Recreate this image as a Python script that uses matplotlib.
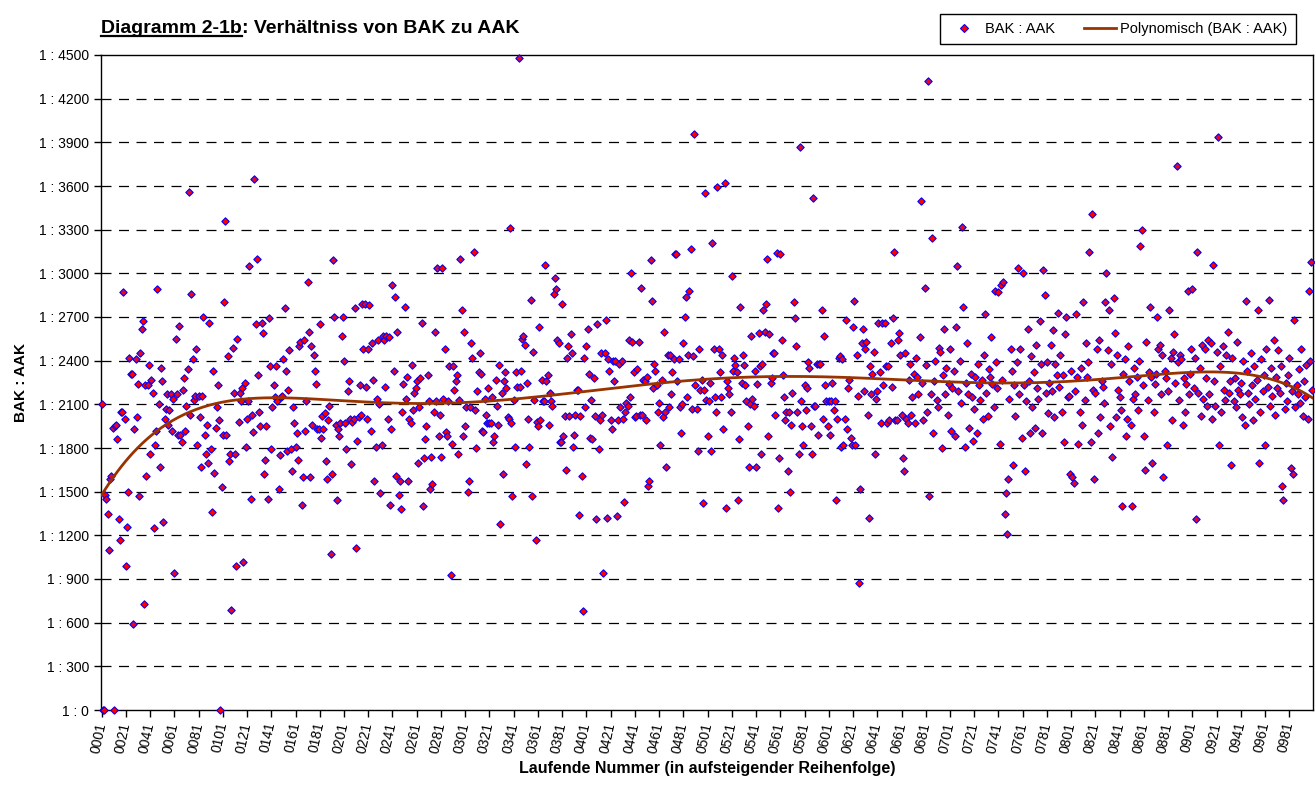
import numpy as np
import matplotlib
matplotlib.use("Agg")
import matplotlib.pyplot as plt
from matplotlib.lines import Line2D
from matplotlib.ticker import FuncFormatter, FixedLocator

plt.rcParams['font.family'] = ['Liberation Sans', 'DejaVu Sans']

# ---- data: ratio BAK : AAK (value N means 1 : N), running numbers 0001..1000 ----
ratio_0001_0100 = [
    2100, 0, 0, 1480, 1450, 1350, 1100, 1590, 1610, 1940,
    0, 1950, 1960, 1860, 1310, 1170, 2050, 2050, 2870, 2000,
    990, 1260, 1500, 2420, 2310, 2310, 590, 1930, 2410, 2010,
    2240, 1470, 2450, 2620, 2670, 730, 2230, 1610, 2230, 2370,
    1760, 2270, 2180, 1250, 1820, 1920, 2890, 2100, 1670, 2350,
    2260, 1290, 2000, 2070, 2170, 1960, 2060, 2170, 1920, 2140,
    940, 2550, 2170, 1890, 2640, 1890, 1840, 2200, 2280, 1920,
    2090, 2340, 3560, 2030, 2860, 2410, 2130, 2160, 2480, 1820,
    2160, 2010, 1670, 2160, 2700, 1890, 1760, 1960, 1700, 2660,
    1790, 1360, 2330, 1630, 1940, 2080, 2230, 1990, 0, 1530]
ratio_0101_0200 = [
    1890, 2800, 3360, 1890, 2430, 1710, 1760, 690, 2490, 2180,
    1760, 990, 2550, 1980, 2180, 2120, 2210, 1020, 2250, 1810,
    2000, 2120, 3050, 1450, 2030, 1910, 3650, 2650, 3100, 2300,
    2050, 1950, 2660, 2590, 1620, 1720, 1950, 1450, 2690, 2360,
    1790, 2080, 2230, 2150, 2360, 2120, 1520, 1750, 2150, 2160,
    2410, 2760, 2330, 1780, 2200, 2470, 1790, 1640, 2080, 1970,
    1810, 1900, 1720, 2500, 2530, 1410, 1600, 2540, 1920, 2120,
    2940, 2600, 1600, 2500, 1960, 2440, 2330, 2240, 1930, 1930,
    2650, 1870, 2020, 1930, 2040, 1710, 1590, 1990, 2090, 1070,
    1620, 3090, 2700, 1960, 1440, 1930, 1880, 1970, 2570, 2700]
ratio_0201_0300 = [
    2400, 1970, 1790, 2190, 2260, 2000, 1690, 1980, 2000, 2760,
    1110, 1850, 2010, 2230, 2030, 2790, 2480, 2790, 2220, 2000,
    2480, 2780, 1920, 2520, 2270, 1570, 1810, 2140, 2540, 2100,
    1490, 1820, 2570, 2540, 2220, 2570, 2000, 2560, 1410, 1930,
    2920, 2330, 2840, 1610, 2600, 1480, 1570, 1380, 2050, 2240,
    2770, 2140, 2290, 1570, 2000, 1970, 2370, 2060, 2180, 2210,
    2260, 1700, 2080, 2280, 2660, 1400, 1730, 1860, 1950, 2300,
    2120, 1520, 1740, 1550, 2050, 2600, 2120, 3040, 1880, 2030,
    1740, 3040, 2140, 2480, 1910, 1880, 2120, 2360, 930, 1830,
    2360, 2200, 2260, 2300, 1760, 2130, 3100, 2750, 1880, 2600]
ratio_0301_0400 = [
    1950, 2080, 1500, 1570, 2080, 2520, 2420, 3150, 2060, 1800,
    2190, 2320, 2450, 2310, 1920, 1910, 2140, 2030, 1970, 2210,
    1970, 1970, 2150, 1840, 1880, 2270, 2090, 1960, 2370, 1280,
    2180, 1620, 2260, 2320, 2210, 2010, 2000, 3310, 1970, 1470,
    2130, 1810, 2320, 2220, 4480, 2220, 2330, 2550, 2570, 2510,
    1690, 2250, 2000, 1810, 2820, 1470, 2460, 2130, 1170, 1980,
    1950, 2630, 1990, 2270, 2120, 2120, 3060, 2260, 2300, 1960,
    2180, 2120, 2090, 2860, 2970, 2890, 2540, 2520, 1840, 1840,
    2790, 1880, 2020, 1650, 2420, 2500, 2020, 2580, 2450, 1810,
    1890, 2030, 2200, 2200, 1340, 2020, 1610, 680, 2420, 2080]
ratio_0401_0500 = [
    2500, 2620, 2310, 1870, 2130, 1860, 2280, 2020, 1310, 2650,
    1790, 1990, 2450, 2030, 940, 2450, 2680, 1320, 2410, 2330,
    1990, 1930, 2400, 2260, 2400, 1330, 1990, 2380, 2080, 2400,
    2000, 1430, 2050, 2110, 2090, 2540, 2150, 3000, 2530, 2320,
    2010, 2020, 2340, 2530, 2030, 2900, 2030, 2270, 2260, 1990,
    2290, 1540, 1570, 3090, 2810, 2210, 2380, 2330, 2230, 2050,
    2110, 1820, 2270, 2010, 2600, 2050, 1670, 2440, 2080, 2440,
    2170, 2320, 2410, 3130, 3130, 2260, 2410, 2080, 1900, 2100,
    2520, 2700, 2840, 2150, 2440, 2880, 3170, 2070, 2430, 3960,
    2230, 2070, 1780, 2480, 2200, 2270, 1420, 2200, 3550, 2130]
ratio_0501_0600 = [
    1880, 2120, 2250, 1780, 3210, 2480, 2150, 2050, 3590, 2480,
    2320, 2150, 2440, 1930, 3620, 1390, 2260, 2210, 2170, 2050,
    2980, 2330, 2420, 2370, 2320, 1440, 1860, 2770, 2250, 2440,
    2370, 2230, 2120, 1950, 1670, 2100, 2570, 2140, 2090, 2330,
    1670, 2240, 2590, 2360, 1760, 2380, 2750, 2600, 2790, 3100,
    1880, 2580, 2250, 2280, 2450, 2450, 2030, 3140, 1390, 1730,
    3130, 2540, 2300, 2150, 1990, 2050, 1640, 2050, 1500, 1960,
    2180, 2800, 2690, 2500, 2050, 1760, 3870, 2120, 1950, 1820,
    2230, 2060, 2210, 2390, 2350, 1950, 1760, 3520, 2090, 2090,
    2380, 1890, 2380, 2380, 2750, 2000, 2570, 2230, 2120, 1950]
ratio_0601_0700 = [
    2120, 1890, 2120, 2250, 2060, 2120, 1440, 2000, 2420, 2430,
    1810, 2410, 1820, 2000, 2680, 1930, 2210, 2270, 1870, 1820,
    2630, 2810, 1820, 2440, 2160, 870, 1520, 2520, 2620, 2190,
    2480, 2530, 2030, 1320, 2360, 2170, 2310, 2460, 1760, 2140,
    2190, 2660, 2320, 1970, 2660, 2230, 2660, 2360, 1970, 2360,
    1990, 2520, 2220, 2690, 3150, 1990, 1990, 2540, 2590, 2440,
    2030, 1730, 1640, 2450, 2000, 1970, 2270, 2380, 2030, 2150,
    2310, 1970, 2420, 2290, 2170, 2560, 3500, 2250, 1990, 2900,
    2370, 2050, 4320, 1470, 2170, 3240, 1900, 2260, 2400, 2130,
    2080, 2490, 2460, 1800, 2300, 2620, 2170, 2350, 2030, 2240]
ratio_0701_0800 = [
    2480, 1920, 2210, 2330, 1880, 2630, 3050, 2190, 2400, 2110,
    3320, 2770, 1810, 2250, 2520, 2170, 1940, 2310, 2150, 1850,
    2070, 2290, 1900, 2380, 2230, 2130, 2270, 2000, 2440, 2720,
    2180, 2020, 2340, 2290, 2560, 2240, 2080, 2880, 2390, 2210,
    2870, 1830, 2920, 2270, 2940, 1350, 1490, 1210, 1590, 2140,
    2480, 2330, 1680, 2230, 2020, 2390, 3040, 2170, 2480, 1870,
    3000, 2230, 1640, 2120, 2620, 2260, 1900, 2430, 2080, 2320,
    1940, 2510, 2210, 2140, 2670, 2380, 1900, 3020, 2850, 2180,
    2390, 2040, 2250, 2510, 2190, 2610, 2010, 2380, 2300, 2730,
    2220, 2440, 2050, 2300, 1840, 2580, 2700, 2150, 2160, 1620]
ratio_0801_0900 = [
    2330, 1600, 1560, 2190, 2720, 2290, 1830, 2050, 2350, 1960,
    2800, 2130, 2520, 2290, 2390, 3150, 1840, 3410, 2200, 1590,
    2180, 2480, 1900, 2540, 2010, 2260, 2220, 2110, 2800, 3000,
    2470, 2750, 1950, 2380, 1740, 2830, 2590, 2010, 2440, 2200,
    2150, 2060, 1400, 2310, 2410, 1880, 2000, 2500, 2260, 1960,
    1400, 2140, 2350, 2170, 2290, 2060, 2400, 3190, 3300, 2230,
    1880, 1650, 2530, 2130, 2320, 2770, 2290, 1700, 2050, 2240,
    2310, 2700, 2480, 2510, 2170, 2440, 1600, 2330, 2280, 1820,
    2190, 2750, 2420, 1990, 2460, 2580, 2250, 3740, 2390, 2130,
    2440, 2410, 1960, 2280, 2050, 2240, 2880, 2170, 2310, 2480]
ratio_0901_1000 = [
    2890, 2210, 2420, 1310, 3150, 2180, 2350, 2020, 2510, 2140,
    2480, 2280, 2090, 2540, 2170, 2520, 2000, 3060, 2260, 2090,
    2460, 3940, 1820, 2360, 2050, 2500, 2200, 2130, 2440, 2600,
    2180, 2260, 1680, 2420, 2120, 2280, 2080, 2530, 2200, 2170,
    2250, 2010, 2400, 1960, 2810, 2330, 2180, 2100, 2450, 2230,
    1990, 2360, 2140, 2270, 2750, 1700, 2050, 2410, 2190, 2300,
    1820, 2480, 2220, 2820, 2090, 2350, 2160, 2540, 2030, 2290,
    2210, 2470, 2180, 2360, 1540, 1440, 2070, 2250, 2120, 2300,
    2420, 1660, 2190, 1620, 2680, 2080, 2230, 2170, 2340, 2110,
    2480, 2020, 2260, 2150, 2370, 2000, 2880, 2400, 3080, 2200]

ratio = np.array(ratio_0001_0100 + ratio_0101_0200 + ratio_0201_0300 + ratio_0301_0400 +
                 ratio_0401_0500 + ratio_0501_0600 + ratio_0601_0700 + ratio_0701_0800 +
                 ratio_0801_0900 + ratio_0901_1000, dtype=float)
running_no = np.arange(1, len(ratio) + 1)

y_ticks = list(range(0, 4501, 300))
x_tick_labels = [f"{i:04d}" for i in range(1, len(ratio) + 1, 20)]

series_label = "BAK : AAK"
trend_label = "Polynomisch (BAK : AAK)"

# ---- figure ----
W, H = 1315, 788
fig = plt.figure(figsize=(W / 100, H / 100), dpi=100)
ax = fig.add_axes([101 / W, 1 - 710 / H, (1313 - 101) / W, (710 - 55) / H])

# grid
for v in y_ticks[1:-1]:
    ax.axhline(v, color='black', lw=0.9, dashes=(8, 6), zorder=1)

sc = ax.scatter(running_no, ratio, marker='D', s=14, facecolor='#FF0000',
                edgecolor='#0000FF', linewidths=0.8, zorder=3, clip_on=False)

# polynomial (order 6) trend line, as in the spreadsheet
xs = (running_no - 1) / (len(ratio) - 1)
coef = np.polyfit(xs, ratio, 6)
xf = np.linspace(0, 1, 600)
trend_x = 1 + xf * (len(ratio) - 1)
tr, = ax.plot(trend_x, np.polyval(coef, xf), color='#993300', lw=2.0, zorder=4)

ax.set_xlim(0.5, len(ratio) + 0.5)
ax.set_ylim(0, 4500)
ax.yaxis.set_major_locator(FixedLocator(y_ticks))
ax.yaxis.set_major_formatter(FuncFormatter(lambda v, p: f"1 : {int(round(v))}"))
ax.set_xticks(list(range(1, len(ratio) + 1, 20)))
ax.set_xticklabels(x_tick_labels, rotation=78, ha='right', va='center',
                   rotation_mode='anchor')
ax.tick_params(axis='both', direction='out', length=5, width=1, labelsize=10,
               colors='black')
ax.tick_params(axis='x', pad=4)
for s in ax.spines.values():
    s.set_linewidth(1.0)
    s.set_color('black')

ax.set_xlabel("Laufende Nummer (in aufsteigender Reihenfolge)", fontsize=11.5,
              fontweight='bold', labelpad=5)
ax.set_ylabel("BAK : AAK", fontsize=11, fontweight='bold', labelpad=8)

# title with underlined first part
t1 = fig.text(101 / W, 1 - 33 / H, "Diagramm 2-1b", fontsize=14, fontweight='bold',
              va='baseline', ha='left')
fig.canvas.draw()
bb = t1.get_window_extent()
fig.text(bb.x1 / W, 1 - 33 / H, ": Verhältniss von BAK zu AAK", fontsize=14,
         fontweight='bold', va='baseline', ha='left')
fig.add_artist(Line2D([bb.x0 / W, bb.x1 / W], [1 - 36 / H, 1 - 36 / H],
                      color='black', lw=1.6, transform=fig.transFigure))

# legend
h1 = Line2D([], [], marker='D', ms=4.5, mfc='#FF0000', mec='#0000FF', mew=0.8, ls='none')
h2 = Line2D([], [], color='#993300', lw=2)
leg = fig.legend([h1, h2], [series_label, trend_label], loc='upper right',
                 bbox_to_anchor=(1303 / W, 1 - 7 / H), ncol=2, frameon=True,
                 fancybox=False, edgecolor='black', framealpha=1, fontsize=10.5,
                 borderpad=0.55, handlelength=2.2, handletextpad=0.3,
                 columnspacing=2.0)
leg.get_frame().set_linewidth(1.0)

fig.savefig("out.png", dpi=100)
